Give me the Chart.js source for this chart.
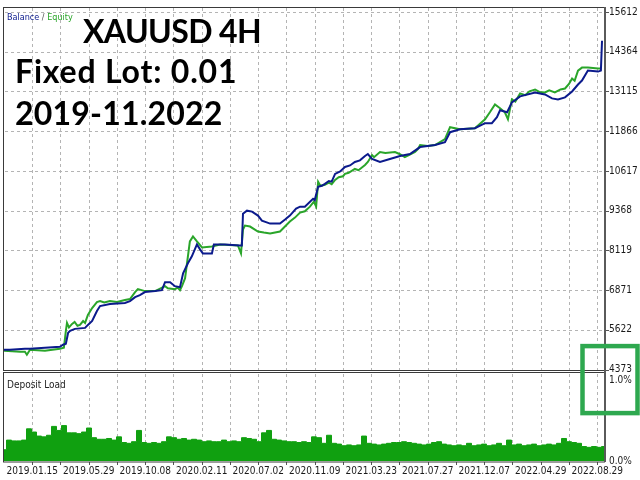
<!DOCTYPE html>
<html><head><meta charset="utf-8">
<script src="https://cdn.jsdelivr.net/npm/chart.js@4.4.1/dist/chart.umd.min.js"></script>
<style>html,body{margin:0;padding:0;background:#fff;} canvas{display:block;}</style>
</head><body>
<canvas id="c" width="640" height="480"></canvas>
<script>
// ---- data ----
const xLabels = ['2019.01.15','2019.05.29','2019.10.08','2020.02.11','2020.07.02','2020.11.09','2021.03.23','2021.07.27','2021.12.07','2022.04.29','2022.08.29'];
const xTickPos = [1,2,3,4,5,6,7,8,9,10,11,12,13,14,15,16,17,18,19,20,21];
const yTickVals = [4373,5622,6871,8119,9368,10617,11866,13115,14364,15612];
const depTickVals = [0,1];
const titleLines = ['XAUUSD 4H','Fixed Lot: 0.01','2019-11.2022'];

const balanceT = [0,0.21,0.74,0.92,1.45,1.98,2.09,2.19,2.27,2.34,2.51,2.87,2.97,3.12,3.29,3.40,3.75,4.28,4.46,4.64,4.81,4.99,5.35,5.59,5.70,5.88,6.05,6.23,6.34,6.51,6.65,6.83,6.94,7.04,7.36,7.43,7.82,8.35,8.42,8.46,8.60,8.78,8.99,9.13,9.42,9.77,9.95,10.12,10.34,10.48,10.65,10.94,11.00,11.12,11.25,11.36,11.50,11.60,11.72,11.90,12.07,12.25,12.42,12.60,12.78,12.88,13.03,13.31,13.66,14.02,14.37,14.73,15.26,15.61,15.79,16.14,16.67,17.03,17.27,17.45,17.56,17.81,17.98,18.27,18.80,19.15,19.40,19.61,19.86,20.11,20.32,20.46,20.67,21.03,21.13,21.17];
const balanceV = [4998,4998,5029,5029,5060,5091,5154,5185,5528,5591,5653,5684,5778,5903,6215,6371,6434,6465,6527,6652,6715,6809,6840,6871,7121,7121,6996,6965,7402,7714,7933,8307,8151,8026,8026,8307,8307,8276,8276,9275,9369,9338,9213,9057,8963,8963,9088,9213,9431,9494,9494,9744,9700,10118,10150,10212,10300,10280,10524,10600,10743,10790,10899,10950,11086,11149,10993,10899,10993,11086,11149,11367,11430,11523,11835,11929,11960,12117,12117,12304,12523,12460,12773,12960,13085,13022,12897,12866,12929,13116,13334,13459,13771,13740,13771,14709];

const equityT = [0,0.57,0.74,0.81,0.92,1.45,1.98,2.12,2.19,2.23,2.30,2.41,2.50,2.60,2.69,2.80,2.87,2.97,3.12,3.29,3.40,3.55,3.75,4.00,4.28,4.46,4.64,4.74,4.99,5.35,5.70,5.80,6.05,6.15,6.23,6.30,6.41,6.58,6.69,6.83,7.01,7.36,7.65,8.28,8.39,8.46,8.53,8.71,8.99,9.20,9.42,9.77,10.12,10.30,10.48,10.65,10.83,10.97,11.05,11.12,11.20,11.36,11.50,11.60,11.72,11.85,12.00,12.07,12.20,12.42,12.55,12.78,12.88,13.03,13.10,13.31,13.50,13.84,14.00,14.19,14.35,14.55,14.65,14.73,15.00,15.26,15.61,15.79,16.14,16.67,17.03,17.20,17.38,17.56,17.73,17.84,17.98,18.10,18.27,18.45,18.60,18.80,18.95,19.15,19.30,19.50,19.70,19.86,20.00,20.11,20.20,20.32,20.46,20.67,21.03,21.13];
const equityV = [4966,4935,4935,4841,4998,4966,5029,5060,5591,5840,5700,5809,5870,5750,5778,5900,5840,6090,6309,6496,6527,6480,6527,6500,6559,6590,6809,6902,6840,6840,6996,6930,6902,6950,6871,6996,7246,8401,8557,8401,8214,8245,8307,8276,8026,8776,8901,8869,8713,8680,8651,8713,9026,9150,9307,9350,9494,9650,9500,10275,10150,10181,10250,10200,10337,10420,10450,10524,10560,10680,10640,10805,10899,11117,11050,11211,11180,11211,11150,11055,11120,11211,11300,11430,11400,11430,11617,11992,11929,11960,12242,12460,12710,12585,12460,12242,12866,12800,13054,13000,13120,13178,13100,13085,13150,13085,13180,13209,13350,13521,13450,13771,13865,13865,13834,13834];

const depositStep = 0.177;
const depositLoad = [0.14,0.26,0.25,0.25,0.26,0.40,0.36,0.31,0.30,0.32,0.43,0.38,0.44,0.35,0.35,0.34,0.36,0.41,0.29,0.27,0.27,0.28,0.26,0.30,0.23,0.22,0.24,0.38,0.23,0.22,0.23,0.22,0.24,0.30,0.29,0.27,0.28,0.26,0.27,0.26,0.24,0.25,0.24,0.24,0.26,0.24,0.25,0.24,0.29,0.28,0.27,0.24,0.35,0.38,0.27,0.26,0.25,0.24,0.24,0.23,0.24,0.23,0.30,0.29,0.22,0.32,0.22,0.21,0.19,0.20,0.19,0.20,0.31,0.22,0.21,0.20,0.21,0.22,0.23,0.23,0.24,0.23,0.22,0.21,0.20,0.21,0.23,0.24,0.21,0.20,0.19,0.20,0.19,0.22,0.19,0.20,0.21,0.19,0.20,0.22,0.19,0.26,0.20,0.21,0.19,0.20,0.21,0.19,0.20,0.21,0.20,0.22,0.28,0.24,0.23,0.22,0.18,0.17,0.18,0.17,0.18];

// ---- styles ----
const NARROW = '"Liberation Sans Narrow","DejaVu Sans Condensed","Liberation Sans",sans-serif';
const BAL = '#0b1a8c', EQ = '#2aa52a', DEP = '#10a010', GRID = '#b4b4b4';

const pts = (t, v) => t.map((x, i) => ({x, y: v[i]}));
const depPts = depositLoad.map((v, i) => ({x: i * depositStep, y: v}));

// dashed grid drawn from the chart's own scales (dashes drawn as small rects)
const dashGrid = {
  id: 'dashGrid',
  beforeDatasetsDraw(chart) {
    const ctx = chart.ctx, a = chart.chartArea, xs = chart.scales.x, ym = chart.scales.y;
    ctx.save();
    ctx.fillStyle = GRID;
    xs.ticks.forEach(t => {
      const px = Math.round(xs.getPixelForValue(t.value));
      for (let y = Math.ceil(a.top) + 1; y < a.bottom; y += 6) ctx.fillRect(px, y, 1, Math.min(3, a.bottom - y));
    });
    ym.ticks.forEach(t => {
      const py = Math.round(ym.getPixelForValue(t.value));
      for (let x = Math.ceil(a.left) + 1; x < a.right; x += 6) ctx.fillRect(x, py, Math.min(3, a.right - x), 1);
    });
    ctx.fillStyle = '#555';
    ym.ticks.forEach(t => {
      const py = Math.round(ym.getPixelForValue(t.value));
      ctx.fillRect(a.right, py, 5, 1);
    });
    xs.ticks.forEach(t => {
      const px = Math.round(xs.getPixelForValue(t.value));
      ctx.fillRect(px, a.bottom, 1, 3);
    });
    ctx.restore();
  }
};

const overlay = {
  id: 'overlay',
  afterDraw(chart) {
    const ctx = chart.ctx, a = chart.chartArea;
    const ym = chart.scales.y, yd = chart.scales.yd;
    ctx.save();
    ctx.strokeStyle = '#3a3a3a'; ctx.lineWidth = 1;
    ctx.strokeRect(a.left - 0.5, ym.top + 0.5, a.right - a.left + 1, Math.round(ym.bottom) - ym.top - 1);
    ctx.strokeRect(a.left - 0.5, Math.round(yd.top) + 1.5, a.right - a.left + 1, Math.round(yd.bottom) - Math.round(yd.top) - 1.5);
    ctx.strokeStyle = '#5a5a5a'; ctx.lineWidth = 2;
    ctx.beginPath(); ctx.moveTo(a.right + 1, a.top); ctx.lineTo(a.right + 1, a.bottom); ctx.stroke();
    // legend labels
    ctx.font = '9px ' + NARROW; ctx.textBaseline = 'middle'; ctx.textAlign = 'left';
    let x = a.left + 3;
    ctx.fillStyle = BAL; ctx.fillText('Balance', x, ym.top + 11); x += ctx.measureText('Balance').width;
    ctx.fillStyle = '#555'; ctx.fillText(' / ', x, ym.top + 11); x += ctx.measureText(' / ').width;
    ctx.fillStyle = EQ; ctx.fillText('Equity', x, ym.top + 11);
    ctx.fillStyle = '#222'; ctx.font = '10px ' + NARROW;
    ctx.fillText('Deposit Load', a.left + 3, yd.top + 14);
    // big titles
    ctx.fillStyle = '#000'; ctx.font = 'bold 32px Lato, "Open Sans", sans-serif'; ctx.textBaseline = 'alphabetic';
    ctx.letterSpacing = '-0.6px';
    ctx.fillText(titleLines[0], a.left + 79, ym.top + 36);
    ctx.letterSpacing = '0.8px';
    ctx.fillText(titleLines[1], a.left + 11, ym.top + 76);
    ctx.letterSpacing = '0.2px';
    ctx.fillText(titleLines[2], a.left + 11, ym.top + 118);
    ctx.letterSpacing = '0px';
    // highlight box
    const by = ym.getPixelForValue(yTickVals[0]);
    ctx.strokeStyle = '#2ea84f'; ctx.lineWidth = 4.5;
    ctx.strokeRect(a.right - 21.5, by - 23.5, chart.width - a.right + 19, 67);
    ctx.restore();
  }
};

new Chart(document.getElementById('c'), {
  type: 'line',
  data: {
    datasets: [
      {label: 'Balance', data: pts(balanceT, balanceV), yAxisID: 'y', borderColor: BAL, borderWidth: 2, pointRadius: 0, tension: 0},
      {label: 'Equity', data: pts(equityT, equityV), yAxisID: 'y', borderColor: EQ, borderWidth: 2, pointRadius: 0, tension: 0},
      {label: 'Deposit Load', data: depPts, yAxisID: 'yd', borderColor: DEP, backgroundColor: DEP, borderWidth: 1, pointRadius: 0, stepped: 'middle', fill: 'origin'}
    ]
  },
  options: {
    responsive: false, animation: false, devicePixelRatio: 1,
    layout: {padding: {left: 4, top: 4, right: 0, bottom: 0}},
    plugins: {legend: {display: false}, tooltip: {enabled: false}, title: {display: false}},
    scales: {
      x: {
        type: 'linear', min: 0, max: 21.24, position: 'bottom',
        afterBuildTicks: s => { s.ticks = xTickPos.map(v => ({value: v})); },
        afterFit: s => { s.height = 18; },
        grid: {display: false, drawOnChartArea: false, tickLength: 3},
        border: {display: false},
        ticks: {autoSkip: false, maxRotation: 0, padding: 0, color: '#1a1a1a', font: {family: NARROW, size: 10},
          callback: v => (v % 2 === 1 ? xLabels[(v - 1) / 2] : '')}
      },
      y: {
        type: 'linear', position: 'right', stack: 'panels', stackWeight: 4,
        min: 4329, max: 15770,
        afterBuildTicks: s => { s.ticks = yTickVals.map(v => ({value: v})); },
        afterFit: s => { s.width = 36; },
        grid: {display: false, drawOnChartArea: false, tickLength: 4},
        border: {display: false},
        ticks: {autoSkip: false, padding: 1, color: '#1a1a1a', font: {family: NARROW, size: 10}, callback: v => String(v)}
      },
      yd: {
        type: 'linear', position: 'right', stack: 'panels', stackWeight: 1,
        min: -0.012, max: 1.118,
        afterBuildTicks: s => { s.ticks = depTickVals.map(v => ({value: v})); },
        afterFit: s => { s.width = 36; },
        grid: {display: false, tickLength: 4},
        border: {display: false},
        ticks: {autoSkip: false, padding: 1, color: '#1a1a1a', font: {family: NARROW, size: 10}, callback: v => v.toFixed(1) + '%'}
      }
    }
  },
  plugins: [dashGrid, overlay]
});
</script>
</body></html>
